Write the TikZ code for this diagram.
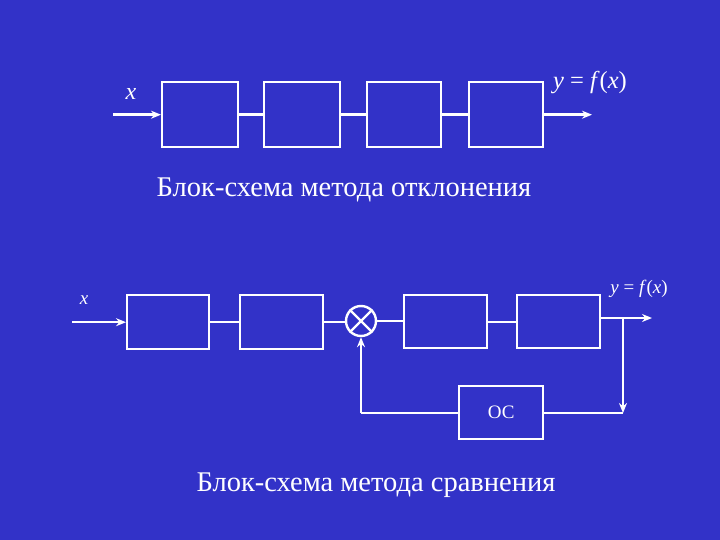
\documentclass[tikz,border=0pt]{standalone}
\usepackage{fontspec}
\setmainfont{Liberation Serif}
\usetikzlibrary{arrows.meta}
\definecolor{bg}{RGB}{50,50,200}
\begin{document}
\begin{tikzpicture}[x=1pt,y=-1pt,
  wire/.style={draw=white,line width=2.4pt},
  blk/.style={draw=white,line width=2.4pt,inner sep=0pt,anchor=north west},
  arr/.style={wire,-{Stealth[length=10pt,width=8pt]}},
  lbl/.style={text=white,inner sep=0pt}]
\fill[bg] (0,0) rectangle (720,540);
\useasboundingbox (0,0) rectangle (720,540);
% top row
\node[blk,minimum width=76pt,minimum height=65pt] (t1) at (161,81) {};
\node[blk,minimum width=76pt,minimum height=65pt] (t2) at (263,81) {};
\node[blk,minimum width=74pt,minimum height=65pt] (t3) at (366,81) {};
\node[blk,minimum width=74pt,minimum height=65pt] (t4) at (468,81) {};
\coordinate (tin) at (113,114);
\coordinate (tout) at (592,113);
\draw[arr] (tin |- t1.west) -- (t1.west);
\draw[wire] (t1.east) -- (t2.west);
\draw[wire] (t2.east) -- (t3.west);
\draw[wire] (t3.east) -- (t4.west);
\draw[arr] (t4.east) -- (t4.east -| tout);
\node[lbl,font=\fontsize{24}{26}\selectfont] (tx) at (131,94) {\textit{x}};
\node[lbl,font=\fontsize{24.5}{26}\selectfont] (ty) at (590,83) {\textit{y} = \textit{f}(\textit{x})};
\node[lbl,font=\fontsize{28.5}{30}\selectfont] (cap1) at (344,190) {Блок-схема метода отклонения};
% bottom row
\node[blk,minimum width=82pt,minimum height=54pt] (b1) at (126,294) {};
\node[blk,minimum width=83pt,minimum height=54pt] (b2) at (239,294) {};
\node[draw=white,line width=2.4pt,circle,minimum size=30pt,inner sep=0pt] (sum) at (361,321) {};
\draw[wire] (sum.north west) -- (sum.south east);
\draw[wire] (sum.north east) -- (sum.south west);
\node[blk,minimum width=83pt,minimum height=53pt] (b3) at (403,294) {};
\node[blk,minimum width=83pt,minimum height=53pt] (b4) at (516,294) {};
\node[blk,minimum width=84pt,minimum height=53pt] (oc) at (458,385) {};
\node[lbl,font=\fontsize{19}{21}\selectfont] (octxt) at (oc.center) {ОС};
\coordinate (bin) at (72,321);
\coordinate (bout) at (652,318);
\coordinate (br) at (623,318);
\coordinate (brd) at (623,413);
\coordinate (fbl) at (361,413);
\draw[arr] (bin |- b1.west) -- (b1.west);
\draw[wire] (b1.east) -- (b2.west);
\draw[wire] (b2.east) -- (b2.east -| sum.west);
\draw[wire] (sum.east) -- (sum.east -| b3.west);
\draw[wire] (b3.east) -- (b3.east -| b4.west);
\draw[arr] (b4.east |- br) -- (bout);
\draw[arr] (br) -- (brd);
\draw[wire] (brd) -- (oc.east |- brd);
\draw[wire] (oc.west |- fbl) -- (fbl);
\draw[arr] (fbl) -- (sum.south);
\node[lbl,font=\fontsize{19}{21}\selectfont] (bx) at (84,300) {\textit{x}};
\node[lbl,font=\fontsize{19}{21}\selectfont] (by) at (639,289) {\textit{y} = \textit{f}(\textit{x})};
\node[lbl,font=\fontsize{28.5}{30}\selectfont] (cap2) at (376,485) {Блок-схема метода сравнения};
\end{tikzpicture}
\end{document}
